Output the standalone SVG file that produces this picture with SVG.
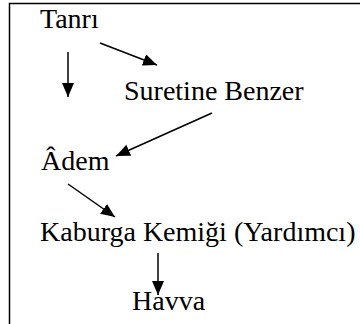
<svg xmlns="http://www.w3.org/2000/svg" width="360" height="324" viewBox="0 0 360 324">
  <style>
    .lbl { font-family: "Liberation Serif", "Times New Roman", serif; font-size: 28px; fill: #000; }
    .edge { stroke: #000; stroke-width: 1.5; fill: none; }
    .frame { stroke: #000; stroke-width: 1.5; fill: none; }
  </style>
  <defs>
    <marker id="head" markerUnits="userSpaceOnUse" markerWidth="14" markerHeight="12" refX="14" refY="6" orient="auto">
      <path d="M0,0 L14,6 L0,12 z" fill="#000"/>
    </marker>
  </defs>
  <rect width="360" height="324" fill="#fff"/>
  <!-- open frame: top and left edges only -->
  <path class="frame" d="M9.5,324 L9.5,3.5 L360,3.5"/>

  <g id="tanri"><text class="lbl" x="40" y="28">Tanrı</text></g>
  <g id="suretine-benzer"><text class="lbl" x="124" y="100">Suretine Benzer</text></g>
  <g id="adem"><text class="lbl" x="41" y="170">Âdem</text></g>
  <g id="kaburga"><text class="lbl" x="40" y="241">Kaburga Kemiği (Yardımcı)</text></g>
  <g id="havva"><text class="lbl" x="132" y="310">Havva</text></g>

  <g id="connectors">
    <line class="edge" x1="68" y1="52" x2="68" y2="97" marker-end="url(#head)"/>
    <line class="edge" x1="100" y1="43" x2="157" y2="65" marker-end="url(#head)"/>
    <line class="edge" x1="212" y1="113" x2="116" y2="156" marker-end="url(#head)"/>
    <line class="edge" x1="68" y1="184" x2="115" y2="217" marker-end="url(#head)"/>
    <line class="edge" x1="158" y1="253" x2="158" y2="295" marker-end="url(#head)"/>
  </g>
</svg>
